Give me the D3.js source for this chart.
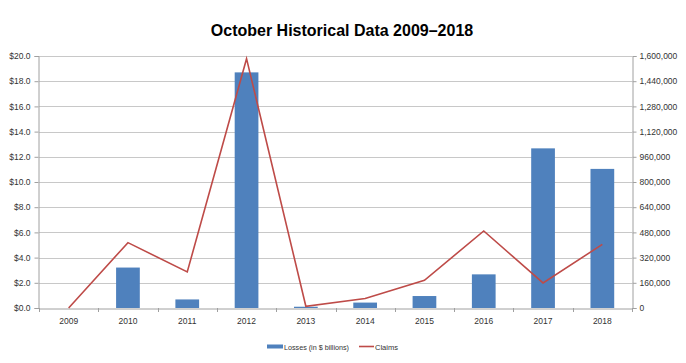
<!DOCTYPE html>
<html><head><meta charset="utf-8">
<script src="https://cdn.jsdelivr.net/npm/d3@7"></script>
<style>body{margin:0;background:#fff}svg{display:block}</style>
</head><body><svg id="c" width="686" height="363"></svg>
<script>
const years = ["2009","2010","2011","2012","2013","2014","2015","2016","2017","2018"];
const losses = [0, 3.21, 0.68, 18.7, 0.1, 0.43, 0.95, 2.67, 12.67, 11.04];
const claims = [0, 415000, 229000, 1583000, 11000, 60000, 176000, 489000, 159000, 404000];
const leftTicks = [0,2,4,6,8,10,12,14,16,18,20];
const rightTicks = [0,160000,320000,480000,640000,800000,960000,1120000,1280000,1440000,1600000];

const svg = d3.select("#c");
const m = {l:39, r:632, t:56, b:308};
const x = d3.scaleBand().domain(years).range([m.l, m.r]);
const yL = d3.scaleLinear().domain([0,20]).range([m.b, m.t]);
const yR = d3.scaleLinear().domain([0,1600000]).range([m.b, m.t]);
const font = "Liberation Sans, Arial, sans-serif";

svg.append("text").attr("x",342).attr("y",35.5).attr("text-anchor","middle")
  .attr("font-family",font).attr("font-weight","bold").attr("font-size",16).attr("fill","#000")
  .text("October Historical Data 2009\u20132018");

// gridlines
svg.append("g").selectAll("line").data(leftTicks.slice(1)).join("line")
  .attr("x1",m.l).attr("x2",m.r).attr("y1",d=>Math.round(yL(d))+0.5).attr("y2",d=>Math.round(yL(d))+0.5)
  .attr("stroke","#c8c8c8").attr("stroke-width",1);

// bars
const bw = x.bandwidth()*0.4;
svg.append("g").selectAll("rect").data(years).join("rect")
  .attr("x",(d)=>x(d)+x.bandwidth()/2-bw/2).attr("width",bw)
  .attr("y",(d,i)=>yL(losses[i])).attr("height",(d,i)=>m.b-yL(losses[i]))
  .attr("fill","#4f81bd");

// axes
const axL = svg.append("g").attr("transform",`translate(${m.l-0.5},0)`)
  .call(d3.axisLeft(yL).tickValues(leftTicks).tickSize(4).tickFormat(d=>"$"+d3.format(".1f")(d)));
const axR = svg.append("g").attr("transform",`translate(${m.r+0.5},0)`)
  .call(d3.axisRight(yR).tickValues(rightTicks).tickSize(4).tickFormat(d3.format(",")));
const axB = svg.append("g").attr("transform",`translate(0,${m.b+0.5})`)
  .call(d3.axisBottom(x).tickSize(0).tickPadding(9));
// category boundary ticks
svg.append("g").selectAll("line").data(d3.range(years.length+1)).join("line")
  .attr("x1",i=>Math.round(m.l+i*x.step())+0.5).attr("x2",i=>Math.round(m.l+i*x.step())+0.5)
  .attr("y1",m.b).attr("y2",m.b+4).attr("stroke","#a0a0a0");
[axL,axR,axB].forEach(a=>{
  a.selectAll(".domain").attr("stroke","#a0a0a0");
  a.selectAll(".tick line").attr("stroke","#a0a0a0");
  a.selectAll("text").attr("font-family",font).attr("font-size",8.5).attr("fill","#333");
});
axL.selectAll("text").attr("x",-8);
axR.selectAll("text").attr("x",7);

// line
const line = d3.line().x((d,i)=>x(years[i])+x.bandwidth()/2).y(d=>yR(d));
svg.append("path").datum(claims).attr("d",line).attr("fill","none")
  .attr("stroke","#be4b48").attr("stroke-width",1.6).attr("stroke-linejoin","miter");

// legend
const lg = svg.append("g").attr("font-family",font).attr("font-size",8).attr("fill","#333");
lg.append("rect").attr("x",267).attr("y",344.5).attr("width",16).attr("height",4).attr("fill","#4f81bd");
lg.append("text").attr("x",284).attr("y",349.5).attr("textLength",65).attr("lengthAdjust","spacingAndGlyphs").text("Losses (in $ billions)");
lg.append("line").attr("x1",359).attr("x2",374).attr("y1",346.5).attr("y2",346.5).attr("stroke","#be4b48").attr("stroke-width",1.6);
lg.append("text").attr("x",375).attr("y",349.5).attr("textLength",23).attr("lengthAdjust","spacingAndGlyphs").text("Claims");
</script></body></html>
